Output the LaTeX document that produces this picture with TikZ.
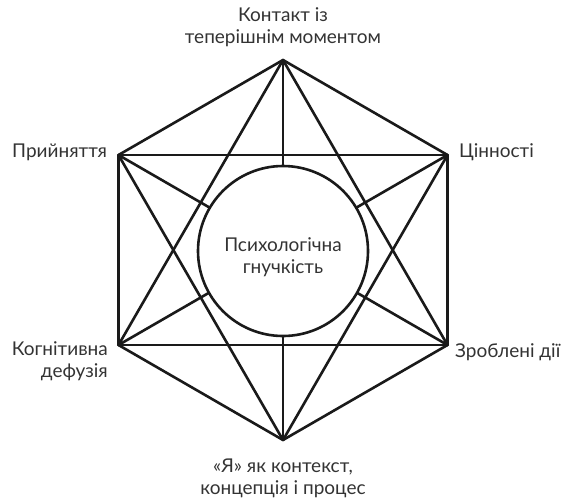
\documentclass[tikz,border=0pt]{standalone}
\usepackage{fontspec}
\setmainfont{Lato}
\definecolor{txt}{HTML}{333333}
\definecolor{ln}{HTML}{1A1A1A}
\begin{document}
\begin{tikzpicture}[x=1pt,y=-1pt,
  edge/.style={draw=ln,line width=2.6pt,line cap=round,line join=round},
  lab/.style={text=txt,font=\fontsize{19}{22}\selectfont,inner sep=0pt,align=center}]
\useasboundingbox (0,0) rectangle (564,499);
\coordinate (T) at (283,60);
\coordinate (UR) at (447.5,155);
\coordinate (LR) at (447.5,345);
\coordinate (B) at (283,440);
\coordinate (LL) at (118.5,345);
\coordinate (UL) at (118.5,155);
\foreach \a/\b in {T/UR,UR/LR,LR/B,B/LL,LL/UL,UL/T,T/B,UR/LL,UL/LR,T/LR,LR/LL,LL/T,UL/UR,UR/B,B/UL}
  \draw[edge] (\a) -- (\b);
\node[circle,draw=ln,fill=white,line width=2.6pt,minimum size=170pt,inner sep=0pt] (C) at (283,251) {};
\node[lab,anchor=base] (cl) at (283,273) {Психологічна\\гнучкість};
\node[lab,anchor=base] (tl) at (283,43.5) {Контакт із\\теперішнім моментом};
\node[lab,anchor=base east] (ul) at (107,157) {Прийняття};
\node[lab,anchor=base west] (ur) at (459,157) {Цінності};
\node[lab,anchor=base east,align=right] (ll) at (108,377) {Когнітивна\\дефузія};
\node[lab,anchor=base west] (lr) at (455,357) {Зроблені дії};
\node[lab,anchor=base] (bl) at (283,494.5) {«Я» як контекст,\\концепція і процес};
\end{tikzpicture}
\end{document}
